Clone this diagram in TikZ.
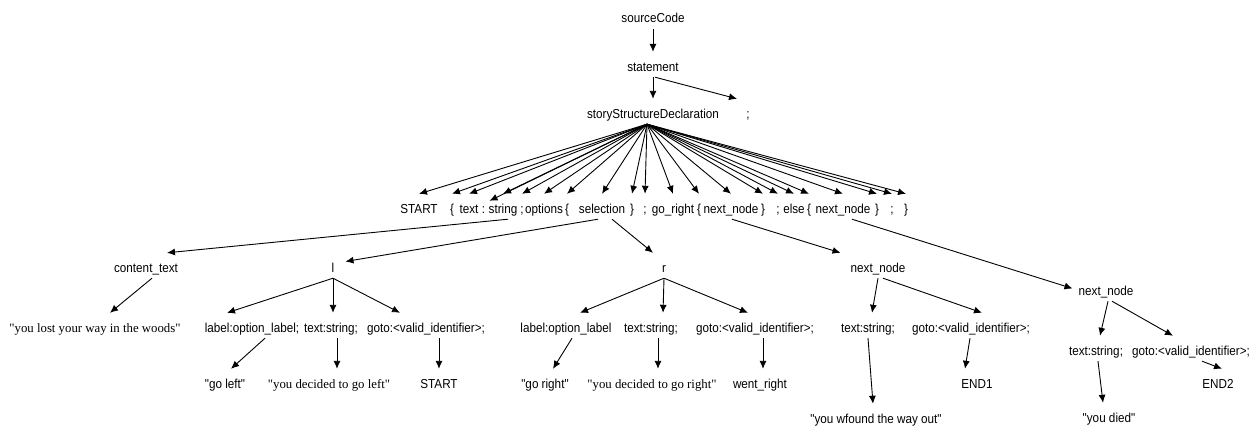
\documentclass[tikz,border=0pt]{standalone}
\usepackage{fontspec}
\setmainfont{Liberation Sans}
\newfontfamily\sansN[FakeStretch=0.9]{Liberation Sans}
\newfontfamily\serifT{Liberation Serif}
\usetikzlibrary{arrows.meta}
\begin{document}
\begin{tikzpicture}[x=1pt,y=-1pt,
  lab/.style={font=\sansN\fontsize{13}{15}\selectfont, anchor=base, inner sep=1pt, text height=18pt, text depth=5pt},
  qt/.style={font=\serifT\fontsize{12.8}{15}\selectfont, anchor=base, inner sep=1pt, text height=18pt, text depth=5pt},
  arr/.style={-{Latex[length=8pt,width=7pt]}, line width=0.9pt}]
\useasboundingbox[fill=white] (0,0) rectangle (1260,428);
% top
\node[lab] (sc) at (653,23) {sourceCode};
\node[lab] (st) at (653,71) {statement};
\node[lab] (ssd) at (653,118) {storyStructureDeclaration};
\node[lab] (s0) at (748,118) {;};
% token row
\foreach \n/\x/\t in {t1/419/START, t2/452/\{, t3/469/text, t4/483.5/:, t5/503/string, t6/522/;, t7/544/options, t8/567/\{, t9/602/selection, t10/632/\}, t11/645/;, t12/673/go\_right, t13/699/\{, t14/731/next\_node, t15/763/\}, t16/778/;, t17/794/else, t18/809/\{, t19/843/next\_node, t20/877/\}, t21/892/;, t22/906/\}}
  {\node[lab] (\n) at (\x,213) {\t};}
% level 2
\node[lab] (ct) at (146,272) {content\_text};
\node[lab] (l) at (333,272) {l};
\node[lab] (r) at (664,272) {r};
\node[lab] (nn2) at (878,272) {next\_node};
\node[lab] (nn3) at (1106,295) {next\_node};
% level 3
\node[qt] (lol) at (95,332) {"you lost your way in the woods"};
\node[lab] (ll) at (252,332) {label:option\_label;};
\node[lab] (lt) at (331,332) {text:string;};
\node[lab] (lg) at (426,332) {goto:<valid\_identifier>;};
\node[lab] (rl) at (566,332) {label:option\_label};
\node[lab] (rt) at (651,332) {text:string;};
\node[lab] (rg) at (755,332) {goto:<valid\_identifier>;};
\node[lab] (nt) at (868,332) {text:string;};
\node[lab] (ng) at (971,332) {goto:<valid\_identifier>;};
\node[lab] (n3t) at (1096,355) {text:string;};
\node[lab] (n3g) at (1191,355) {goto:<valid\_identifier>;};
% level 4
\node[lab] (gl) at (225,388) {"go left"};
\node[qt] (ydl) at (329,388) {"you decided to go left"};
\node[lab] (st2) at (439,388) {START};
\node[lab] (gr) at (545,388) {"go right"};
\node[qt] (ydr) at (652,388) {"you decided to go right"};
\node[lab] (wr) at (760,388) {went\_right};
\node[lab] (e1) at (977,388) {END1};
\node[lab] (e2) at (1218,388) {END2};
\node[lab] (wf) at (876,423) {"you wfound the way out"};
\node[lab] (died) at (1109,422) {"you died"};
% edges top
\draw[arr] (sc.south) -- (st.north);
\draw[arr] (st.south) -- (ssd.north);
\draw[arr] ([xshift=2pt]st.south) -- ([xshift=-11pt]s0.north);
% fan
\foreach \n in {t1,t2,t3,t5,t6,t7,t8,t9,t10,t11,t12,t13,t14,t15,t16,t17,t18,t19,t20,t21,t22}
  {\draw[arr] ([xshift=-6pt]ssd.south) -- (\n.north);}
\draw[arr] ([xshift=-6pt]ssd.south) -- ([xshift=6pt,yshift=-7pt]t4.north);
% level 2 edges
\draw[arr] ([xshift=5pt]t5.south) -- ([xshift=21pt]ct.north);
\draw[arr] ([xshift=-4pt]t9.south) -- ([xshift=10pt,yshift=4pt]l.east);
\draw[arr] ([xshift=10pt]t9.south) -- ([xshift=-11pt]r.north);
\draw[arr] ([xshift=1pt]t14.south) -- ([xshift=-9pt]nn2.north west);
\draw[arr] ([xshift=9pt]t19.south) -- ([xshift=-5pt]nn3.west);
% level 3 edges
\draw[arr] ([xshift=6pt]ct.south) -- ([xshift=15pt]lol.north);
\draw[arr] (l.south) -- ([xshift=-25pt]ll.north);
\draw[arr] (l.south) -- ([xshift=2pt]lt.north);
\draw[arr] (l.south) -- ([xshift=-26pt]lg.north);
\draw[arr] (r.south) -- ([xshift=14pt]rl.north);
\draw[arr] (r.south) -- ([xshift=12pt]rt.north);
\draw[arr] (r.south) -- ([xshift=-7pt]rg.north);
\draw[arr] (nn2.south) -- ([xshift=4pt]nt.north);
\draw[arr] ([xshift=5pt]nn2.south) -- ([xshift=11pt]ng.north);
\draw[arr] ([xshift=2pt]nn3.south) -- ([xshift=4pt]n3t.north);
\draw[arr] ([xshift=6pt]nn3.south) -- ([xshift=-18pt]n3g.north);
% level 4 edges
\draw[arr] ([xshift=13pt]ll.south) -- ([xshift=6pt]gl.north);
\draw[arr] ([xshift=6pt]lt.south) -- ([xshift=8pt]ydl.north);
\draw[arr] ([xshift=13pt]lg.south) -- (st2.north);
\draw[arr] ([xshift=6pt]rl.south) -- ([xshift=8pt]gr.north);
\draw[arr] ([xshift=7pt]rt.south) -- ([xshift=6pt]ydr.north);
\draw[arr] ([xshift=8pt]rg.south) -- ([xshift=3pt]wr.north);
\draw[arr] (nt.south) -- ([xshift=-3pt]wf.north);
\draw[arr] ([xshift=-1pt]ng.south) -- ([xshift=-12pt]e1.north);
\draw[arr] ([xshift=2pt]n3t.south) -- ([xshift=-6pt]died.north);
\draw[arr] ([xshift=11pt]n3g.south) -- ([xshift=4pt]e2.north);
\end{tikzpicture}
\end{document}
